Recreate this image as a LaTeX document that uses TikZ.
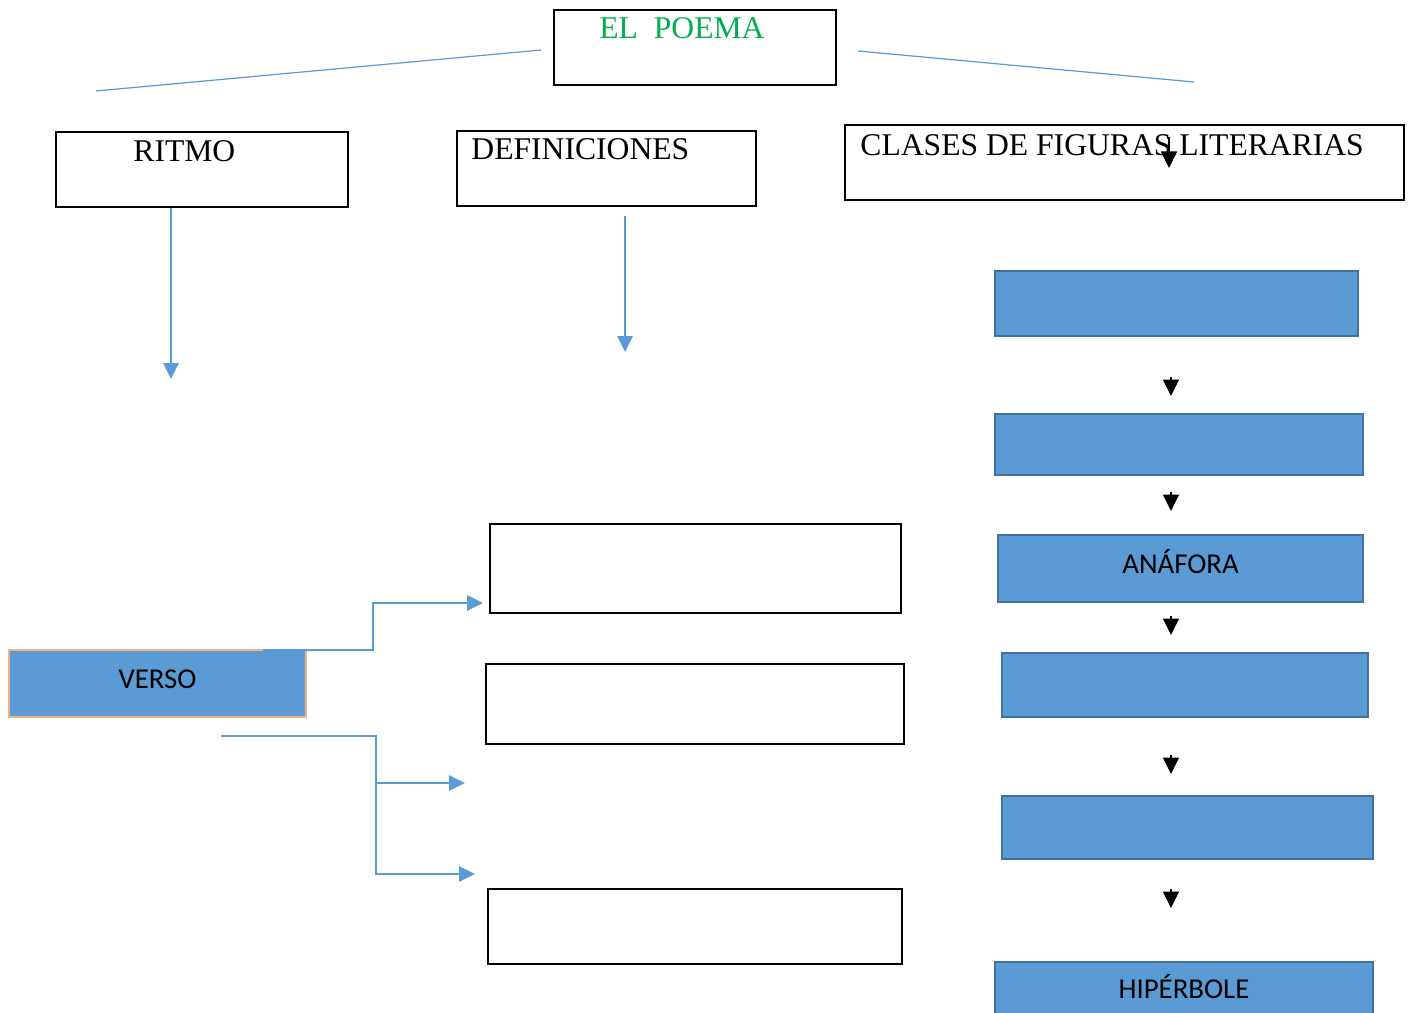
\documentclass[tikz,border=0pt]{standalone}
\usepackage{fontspec}
\setmainfont{Liberation Serif}
\newfontfamily\calibrifont{Carlito}
\usetikzlibrary{arrows.meta,positioning,calc}

\begin{document}
\begin{tikzpicture}
[x=0.02cm,y=-0.02cm,
% Styles
frame box/.style={draw=black,line width=1.1pt,inner sep=0pt},
figure box/.style={draw=figureedge,fill=figurefill,line width=0.9pt,inner sep=0pt,
  text height=12pt,text depth=6pt,font=\calibrifont\fontsize{16.4}{19}\selectfont},
title text/.style={anchor=north west,inner sep=0pt,font=\fontsize{18}{21}\selectfont},
link/.style={draw=linkcolor,line width=1.6pt,-{Triangle[length=0.32cm,width=0.3cm]}},
thin link/.style={draw=linkcolor,line width=0.7pt},
down tip/.style={draw=black,line width=0.7pt,-{Triangle[length=0.33cm,width=0.32cm]}}]
% Colors
\definecolor{linkcolor}{HTML}{5B9BD5}
\definecolor{figurefill}{HTML}{5B9BD5}
\definecolor{figureedge}{HTML}{41719C}
\definecolor{versoedge}{HTML}{F4B183}
\definecolor{poemacolor}{HTML}{00B050}
% The graphic
\useasboundingbox (0,0) rectangle (1410,1013);
% Top row
\node[frame box,minimum width=5.64cm,minimum height=1.5cm] (poema) at (695,47.5) {};
\node[title text,text=poemacolor] (poema text) at ([shift={(46,8)}]poema.north west) {EL\ \ POEMA};
\coordinate (left start) at (541,50);
\coordinate (left end) at (96,91);
\coordinate (right start) at (858,51);
\coordinate (right end) at (1194,82);
\draw[thin link] (left start) -- (left end);
\draw[thin link] (right start) -- (right end);
% Second row
\node[frame box,minimum width=5.84cm,minimum height=1.5cm] (ritmo) at (202,169.5) {};
\node[title text] (ritmo text) at ([shift={(78,9)}]ritmo.north west) {RITMO};
\node[frame box,minimum width=5.98cm,minimum height=1.5cm] (definiciones) at (606.5,168.5) {};
\node[title text] (definiciones text) at ([shift={(15,8)}]definiciones.north west) {DEFINICIONES};
\node[frame box,minimum width=11.18cm,minimum height=1.5cm] (clases) at (1124.5,162.5) {};
\node[title text] (clases text) at ([shift={(16,10)}]clases.north west) {CLASES DE FIGURAS LITERARIAS};
\coordinate (ritmo end) at (171,379);
\coordinate (definiciones start) at (625,216);
\coordinate (definiciones end) at (625,352);
\coordinate (clases start) at (1169,137);
\coordinate (clases end) at (1169,168);
\draw[link] (ritmo.south -| ritmo end) -- (ritmo end);
\draw[link] (definiciones start) -- (definiciones end);
\draw[down tip] (clases start) -- (clases end);
% Figures column
\foreach \i/\cx/\cy/\w/\h/\txt in {1/1176.5/303.5/7.26/1.3/{},2/1179/444.5/7.36/1.22/{},
  3/1180.5/568.5/7.3/1.34/ANÁFORA,4/1185/685/7.32/1.28/{},5/1187.5/827.5/7.42/1.26/{},
  6/1184/993/7.56/1.24/HIPÉRBOLE}
  \node[figure box,minimum width=\w cm,minimum height=\h cm] (figure \i) at (\cx,\cy) {\txt};
\foreach \y in {377,492,616,755,889}
  \draw[down tip] (1171,\y) -- (1171,\y+19);
% Verso and its boxes
\node[frame box,minimum width=8.22cm,minimum height=1.78cm] (box a) at (695.5,568.5) {};
\node[frame box,minimum width=8.36cm,minimum height=1.6cm] (box b) at (695,704) {};
\node[frame box,minimum width=8.28cm,minimum height=1.5cm] (box c) at (695,926.5) {};
\node[figure box,draw=versoedge,line width=1.2pt,minimum width=5.94cm,minimum height=1.34cm]
  (verso) at (157.5,683.5) {VERSO};
\coordinate (upper start) at (263,650);
\coordinate (upper bend) at (373,603);
\coordinate (upper end) at (483,603);
\coordinate (lower start) at (221,736);
\coordinate (lower bend) at (376,874);
\coordinate (lower end) at (475,874);
\coordinate (middle start) at (376,783);
\coordinate (middle end) at (465,783);
\draw[link] (upper start) -| (upper bend) -- (upper end);
\draw[link] (lower start) -| (lower bend) -- (lower end);
\draw[link] (middle start) -- (middle end);
\end{tikzpicture}
\end{document}
